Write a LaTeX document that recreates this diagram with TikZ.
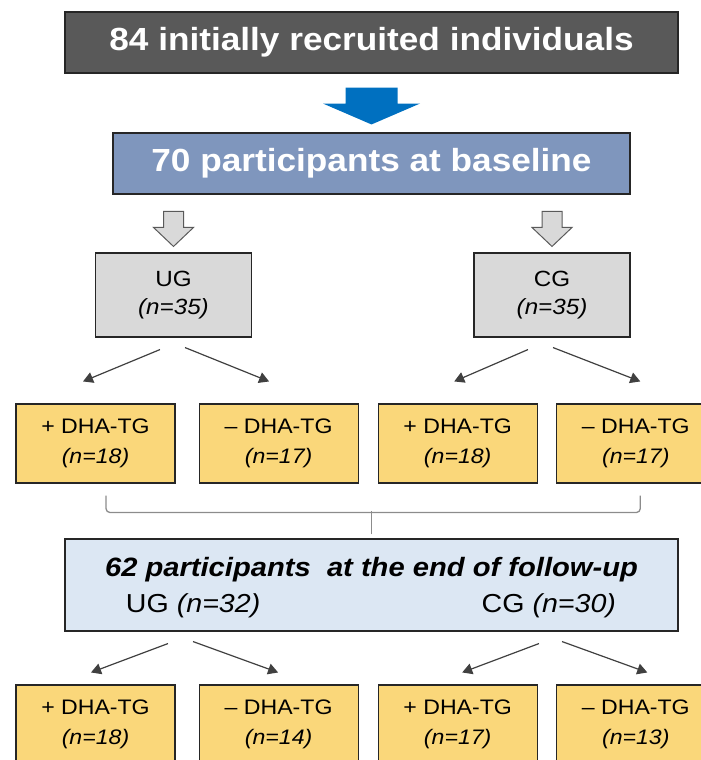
\documentclass[tikz,border=0pt]{standalone}
\usepackage{fontspec}
\setmainfont[FakeStretch=1.1]{Liberation Sans}
\usepackage{tikz}
\usetikzlibrary{arrows.meta, positioning, calc}
\definecolor{boxInk}{RGB}{38,38,38}
\definecolor{headGrey}{RGB}{89,89,89}
\definecolor{baseBlue}{RGB}{127,150,189}
\definecolor{flowBlue}{RGB}{0,112,192}
\definecolor{grpGrey}{RGB}{217,217,217}
\definecolor{hollowInk}{RGB}{90,90,90}
\definecolor{armYellow}{RGB}{250,215,122}
\definecolor{endBlue}{RGB}{220,231,243}
\definecolor{arrInk}{RGB}{64,64,64}
\definecolor{braceGrey}{RGB}{140,140,140}

\begin{document}
\begin{tikzpicture}[x=1pt,y=-1pt,
  box/.style={draw=boxInk,line width=1.1pt,inner sep=0pt,align=center},
  topbox/.style={box,fill=headGrey,minimum width=613pt,minimum height=61pt,
                 text=white,font=\fontsize{32}{36}\selectfont\bfseries},
  basebox/.style={topbox,fill=baseBlue,minimum width=517pt},
  grp/.style={box,fill=grpGrey,minimum width=156pt,minimum height=84pt,
              font=\fontsize{22}{28}\selectfont},
  arm/.style={box,fill=armYellow,minimum width=159pt,minimum height=79pt,
              font=\fontsize{21}{30}\selectfont},
  final/.style={box,fill=endBlue,minimum width=613pt,minimum height=92pt},
  hollow/.style={draw=hollowInk,fill=grpGrey,line width=1pt},
  arr/.style={-{Triangle[length=10pt,width=11pt]},line width=1.2pt,draw=arrInk},
  brace/.style={draw=braceGrey,line width=1.3pt,rounded corners=4pt}]

\useasboundingbox (0,0) rectangle (701,760);
\clip (0,0) rectangle (701,760);

% Recruitment and baseline
\node[topbox] (top) at (371.5,42.5) {84 initially recruited individuals};
\node[basebox] (base) at (371.5,163.5) {70 participants at baseline};
\fill[flowBlue] ($(top.south)+(-26,14)$) -- ++(52,0) -- ++(0,16) -- ++(22.5,0)
   -- ($(base.north)+(0,-8)$) -- ($(top.south)+(-48.5,30)$) -- ++(22.5,0) -- cycle;

% Groups
\node[grp] (ug) at (173.5,295) {UG\\ \textit{(n=35)}};
\node[grp] (cg) at (552,295) {CG\\ \textit{(n=35)}};
\foreach \g in {ug,cg}
  \draw[hollow] ($(\g.north)+(0,-6)$) -- ++(20,-19) -- ++(-10,0) -- ++(0,-16)
     -- ++(-20,0) -- ++(0,16) -- ++(-10,0) -- cycle;

% Arms at baseline
\node[arm] (ya) at (95.5,443.5) {+ DHA-TG\\ \textit{(n=18)}};
\node[arm,right=23pt of ya] (yb) {– DHA-TG\\ \textit{(n=17)}};
\node[arm,right=19pt of yb] (yc) {+ DHA-TG\\ \textit{(n=18)}};
\node[arm,right=18pt of yc] (yd) {– DHA-TG\\ \textit{(n=17)}};

\foreach \src/\sx/\sy/\dst/\dx in {ug/-13.5/-12/ya/-12.5, ug/11.5/-10/yb/-9.5,
                                   cg/-24/-12/yc/-3.5, cg/1/-10/yd/4.5}
  \draw[arr] ([xshift=\sx pt,yshift=\sy pt]\src.south) -- ([xshift=\dx pt,yshift=22pt]\dst.north);

% End of follow-up
\node[final] (end) at (371.5,585) {};
\node[anchor=base,font=\fontsize{26.5}{30}\selectfont\bfseries\itshape] (endtitle)
   at ($(end.north)+(0,38)$) {62 participants\ \ at the end of follow-up};
\node[anchor=base west,font=\fontsize{26}{30}\selectfont] (endug)
   at ($(end.west)+(58,27)$) {UG \textit{(n=32)}};
\node[anchor=base east,font=\fontsize{26}{30}\selectfont] (endcg)
   at ($(end.east)+(-59,27)$) {CG \textit{(n=30)}};

\draw[brace] ($(ya.south)+(10.5,12)$) |- ($(yd.south)+(4.5,29)$) -- ++(0,-17);
\draw[brace] ($(end.north)+(0,-4)$) -- ++(0,-23);

% Arms at follow-up
\node[arm] (za) at (95.5,724.5) {+ DHA-TG\\ \textit{(n=18)}};
\node[arm,right=23pt of za] (zb) {– DHA-TG\\ \textit{(n=14)}};
\node[arm,right=19pt of zb] (zc) {+ DHA-TG\\ \textit{(n=17)}};
\node[arm,right=18pt of zc] (zd) {– DHA-TG\\ \textit{(n=13)}};

\foreach \sx/\sy/\dst/\dx in {-203.5/-12/za/-4.5, -178.5/-10/zb/-0.5,
                              167.5/-12/zc/4.5, 190.5/-10/zd/11.5}
  \draw[arr] ([xshift=\sx pt,yshift=\sy pt]end.south) -- ([xshift=\dx pt,yshift=12pt]\dst.north);
\end{tikzpicture}
\end{document}
